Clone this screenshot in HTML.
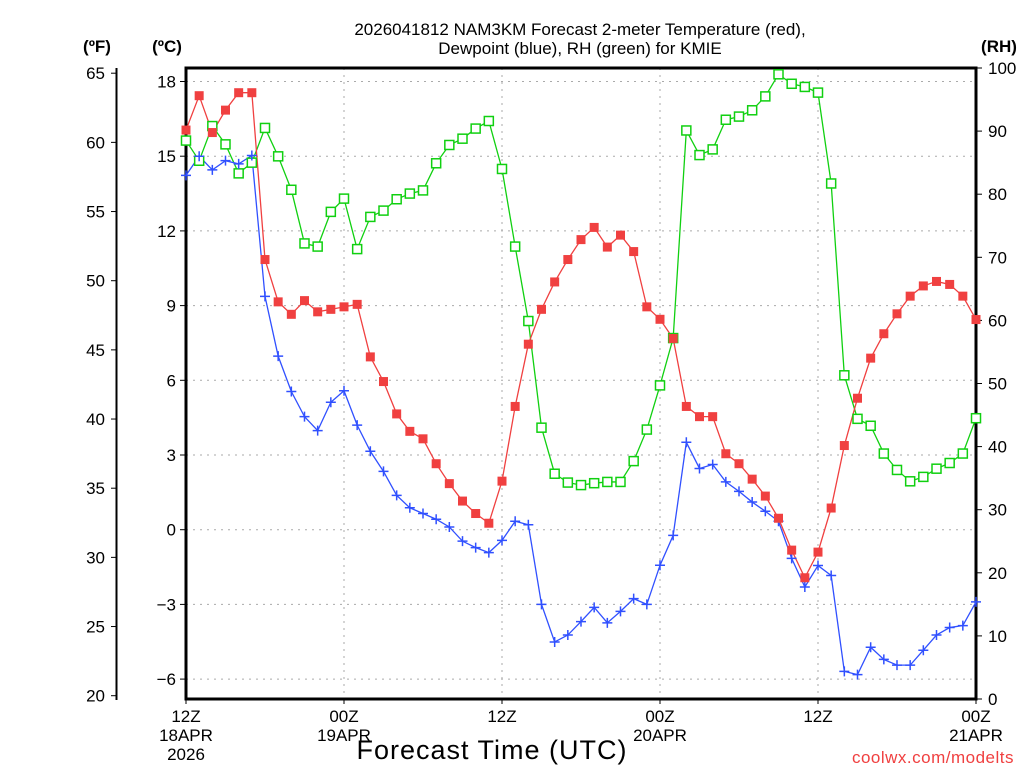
<!DOCTYPE html>
<html><head><meta charset="utf-8"><style>
html,body{margin:0;padding:0;background:#fff;width:1024px;height:768px;overflow:hidden}
svg text{font-family:"Liberation Sans",sans-serif}
</style></head><body>
<svg id="chart" width="1024" height="768" viewBox="0 0 1024 768">
<g id="grid"></g>
<g id="axes"></g>
<g id="series"></g>
<text x="580" y="35" font-size="17" text-anchor="middle">2026041812 NAM3KM Forecast 2-meter Temperature (red),</text>
<text x="580" y="54" font-size="17" text-anchor="middle">Dewpoint (blue), RH (green) for KMIE</text>
<text x="97" y="52" font-size="17" font-weight="bold" text-anchor="middle">(ºF)</text>
<text x="167" y="52" font-size="17" font-weight="bold" text-anchor="middle">(ºC)</text>
<text x="999" y="52" font-size="17" font-weight="bold" text-anchor="middle">(RH)</text>
<text x="492" y="759" font-size="27" text-anchor="middle" letter-spacing="1">Forecast Time (UTC)</text>
<text x="1014" y="763" font-size="17" fill="#f04040" text-anchor="end" font-family="Liberation Mono" letter-spacing="0.5">coolwx.com/modelts</text>
</svg>
<script>
const hours = [];
for (let i = 0; i <= 60; i++) hours.push(i);
const tempC = [16.05,17.43,15.95,16.85,17.55,17.55,10.85,9.15,8.65,9.2,8.75,8.85,8.95,9.05,6.94,5.95,4.65,3.95,3.65,2.65,1.85,1.15,0.65,0.26,1.95,4.95,7.45,8.85,9.95,10.85,11.65,12.14,11.35,11.83,11.17,8.95,8.45,7.68,4.95,4.54,4.54,3.05,2.65,2.03,1.35,0.46,-0.82,-1.93,-0.9,0.87,3.38,5.28,6.89,7.87,8.67,9.38,9.79,9.97,9.85,9.38,8.44];
const dewC = [14.23,15.0,14.45,14.82,14.69,15.03,9.37,6.97,5.55,4.54,3.98,5.12,5.58,4.2,3.15,2.34,1.38,0.88,0.65,0.42,0.11,-0.46,-0.72,-0.92,-0.43,0.34,0.2,-3.0,-4.51,-4.23,-3.69,-3.12,-3.74,-3.28,-2.77,-3.0,-1.43,-0.23,3.51,2.46,2.62,1.92,1.54,1.11,0.74,0.34,-1.15,-2.3,-1.44,-1.84,-5.69,-5.82,-4.72,-5.21,-5.44,-5.44,-4.84,-4.23,-3.93,-3.85,-2.9];
const rh = [88.5,85.3,90.8,87.9,83.3,85.0,90.5,86.0,80.7,72.2,71.7,77.2,79.3,71.3,76.4,77.4,79.2,80.1,80.6,84.9,87.8,88.8,90.4,91.6,84.0,71.7,59.9,43.0,35.7,34.3,33.9,34.2,34.4,34.4,37.7,42.7,49.7,57.2,90.1,86.2,87.1,91.8,92.3,93.3,95.5,99.0,97.5,97.0,96.1,81.7,51.3,44.4,43.3,38.9,36.3,34.5,35.2,36.5,37.4,38.9,44.5];
const celsiusTicks = [-6,-3,0,3,6,9,12,15,18];
const fahrenheitTicks = [20,25,30,35,40,45,50,55,60,65];
const rhTicks = [0,10,20,30,40,50,60,70,80,90,100];
const xTickHours = [0,12,24,36,48,60];
const xTickLabels = [["12Z","18APR","2026"],["00Z","19APR"],["12Z"],["00Z","20APR"],["12Z"],["00Z","21APR"]];

const L=186,R=976,T=68,B=699;
const xs = h => L + (h/60)*(R-L);
const yc = c => 529.7 - c*24.9;
const yf = f => yc((f-32)/1.8);
const yr = r => B - r*(B-T)/100;
const NS="http://www.w3.org/2000/svg";
function mk(tag, parent, attrs){const e=document.createElementNS(NS,tag);for(const k in attrs)e.setAttribute(k,attrs[k]);parent.appendChild(e);return e;}
const grid=document.getElementById('grid'), axes=document.getElementById('axes'), series=document.getElementById('series');

celsiusTicks.forEach(c=>{
  const y=yc(c);
  const g=mk('line',grid,{x1:L,x2:R,y1:y,y2:y,stroke:'#aaa','stroke-width':1,'stroke-dasharray':'2,5'});
  
  
  const t=mk('line',axes,{x1:L-6,x2:L,y1:y,y2:y,stroke:'#000','stroke-width':1});
  
  
  const tx=mk('text',axes,{x:L-10,y:y+6,'font-size':17,'text-anchor':'end'});
  tx.textContent = c<0 ? '\u2212'+Math.abs(c) : String(c);
  
  
});
xTickHours.forEach((h,i)=>{
  const x=xs(h);
  if(h>0&&h<60){const g=mk('line',grid,{x1:x,x2:x,y1:T,y2:B,stroke:'#aaa','stroke-width':1,'stroke-dasharray':'2,5'});
  
  }
  const t=mk('line',axes,{x1:x,x2:x,y1:B,y2:B+5,stroke:'#000','stroke-width':1});
  
  
  xTickLabels[i].forEach((s,j)=>{
    const tx=mk('text',axes,{x:x,y:722+j*19,'font-size':17,'text-anchor':'middle'});
    tx.textContent=s;
    
    
  });
});
fahrenheitTicks.forEach(f=>{
  const y=yf(f);
  const t=mk('line',axes,{x1:111,x2:116,y1:y,y2:y,stroke:'#000','stroke-width':1});
  
  
  const tx=mk('text',axes,{x:105,y:y+6,'font-size':17,'text-anchor':'end'});
  tx.textContent=String(f);
  
  
});
rhTicks.forEach(r=>{
  const y=yr(r);
  const t=mk('line',axes,{x1:R,x2:R+6,y1:y,y2:y,stroke:'#000','stroke-width':1});
  
  
  const tx=mk('text',axes,{x:R+12,y:y+6,'font-size':17,'text-anchor':'start'});
  tx.textContent=String(r);
  
  
});
const fax=mk('line',axes,{x1:116.5,x2:116.5,y1:T,y2:700,stroke:'#000','stroke-width':2});


const frame=mk('rect',axes,{x:L,y:T,width:R-L,height:B-T,fill:'none',stroke:'#000','stroke-width':3});



function line(vals, yfn, color, name){
  const p=mk('polyline',series,{points:vals.map((v,i)=>xs(hours[i])+','+yfn(v)).join(' '),fill:'none',stroke:color,'stroke-width':1.3});
  
  
}
line(rh,yr,'#10d010','rh');
line(dewC,yc,'#3050ff','dewpoint');
line(tempC,yc,'#f04040','temperature');
rh.forEach((v,i)=>{
  const m=mk('rect',series,{x:xs(hours[i])-4.5,y:yr(v)-4.5,width:9,height:9,fill:'#fff',stroke:'#10d010','stroke-width':1.5});
  
  
});
dewC.forEach((v,i)=>{
  const x=xs(hours[i]),y=yc(v);
  const m=mk('path',series,{d:`M${x-5},${y}H${x+5}M${x},${y-5}V${y+5}`,stroke:'#3050ff','stroke-width':1.5});
  
  
});
tempC.forEach((v,i)=>{
  const m=mk('rect',series,{x:xs(hours[i])-4.5,y:yc(v)-4.5,width:9,height:9,fill:'#f04040'});
  
  
});
</script>
</body></html>
